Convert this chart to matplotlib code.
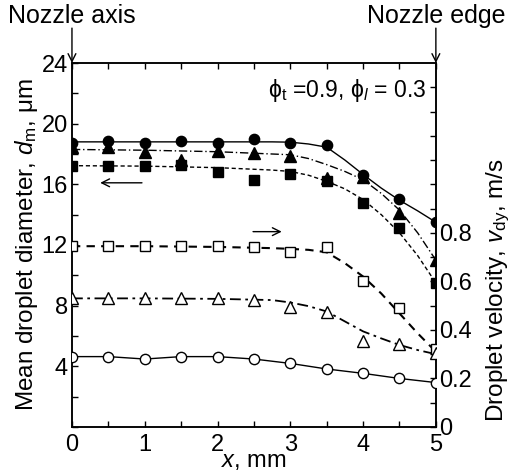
import matplotlib
matplotlib.use("Agg")
import matplotlib.pyplot as plt
import numpy as np

plt.rcParams['font.family'] = ['Liberation Sans', 'DejaVu Sans']
plt.rcParams['mathtext.fontset'] = 'custom'
plt.rcParams['mathtext.rm'] = 'Liberation Sans'
plt.rcParams['mathtext.it'] = 'Liberation Sans:italic'
plt.rcParams['mathtext.bf'] = 'Liberation Sans:bold'

# ---- data: measured points ----
x_pts = [0, 0.5, 1, 1.5, 2, 2.5, 3, 3.5, 4, 4.5, 5]
# mean droplet diameter (left axis, um)
d_circle = [18.75, 18.85, 18.7, 18.85, 18.75, 19.0, 18.7, 18.6, 16.6, 15.0, 13.5]
d_triangle = [18.45, 18.45, 18.15, 17.6, 18.2, 18.05, 17.9, 16.4, 16.5, 14.1, 11.0]
d_square = [17.2, 17.2, 17.2, 17.25, 16.8, 16.3, 16.7, 16.25, 14.8, 13.1, 9.5]
# droplet velocity (right axis, m/s)
v_square = [0.745, 0.745, 0.745, 0.745, 0.745, 0.74, 0.72, 0.74, 0.60, 0.49, 0.32]
v_triangle = [0.53, 0.53, 0.53, 0.53, 0.53, 0.523, 0.496, 0.473, 0.356, 0.342, 0.304]
v_circle = [0.29, 0.29, 0.28, 0.29, 0.29, 0.28, 0.262, 0.239, 0.221, 0.20, 0.183]

# ---- data: fitted curves ----
x_fit = [0, 1, 2, 2.75, 3, 3.25, 3.5, 3.75, 4, 4.25, 4.5, 4.75, 5]
d_circle_fit = [18.8, 18.8, 18.8, 18.8, 18.78, 18.66, 18.45, 17.6, 16.65, 15.75, 14.95, 14.25, 13.5]
d_triangle_fit = [18.3, 18.25, 18.15, 18.0, 17.95, 17.7, 17.3, 16.85, 16.3, 15.4, 14.3, 12.8, 11.0]
d_square_fit = [17.23, 17.2, 17.1, 16.94, 16.85, 16.6, 16.2, 15.7, 15.0, 14.0, 12.8, 11.3, 9.5]
v_square_fit = [0.745, 0.745, 0.742, 0.737, 0.734, 0.73, 0.72, 0.675, 0.62, 0.55, 0.468, 0.386, 0.31]
v_triangle_fit = [0.53, 0.53, 0.528, 0.523, 0.513, 0.498, 0.476, 0.435, 0.394, 0.365, 0.338, 0.317, 0.30]

fig = plt.figure(figsize=(5.14, 4.73), dpi=100)
ax = fig.add_axes([0.140, 0.0973, 0.708, 0.7695])
ax2 = ax.twinx()

ms = 7.4
# left axis series
ax.plot(x_fit, d_circle_fit, color='black', lw=1.0, ls='-', zorder=2)
ax.plot(x_pts, d_circle, ls='none', marker='o', ms=ms, mfc='black', mec='black', zorder=3)
ax.plot(x_fit, d_triangle_fit, color='black', lw=1.0, ls=(0, (6, 2, 1, 2)), zorder=2)
ax.plot(x_pts, d_triangle, ls='none', marker='^', ms=ms + 0.6, mfc='black', mec='black', zorder=3)
ax.plot(x_fit, d_square_fit, color='black', lw=1.0, ls=(0, (3, 2)), zorder=2)
ax.plot(x_pts, d_square, ls='none', marker='s', ms=ms - 0.8, mfc='black', mec='black', zorder=3)

# right axis series
ax2.plot(x_fit, v_square_fit, color='black', lw=1.5, ls=(0, (4, 3)), zorder=2)
ax2.plot(x_pts, v_square, ls='none', marker='s', ms=ms - 0.6, mfc='white', mec='black', mew=1.0, zorder=3)
ax2.plot(x_fit, v_triangle_fit, color='black', lw=1.3, ls=(0, (6, 2.5, 1.5, 2.5)), zorder=2)
ax2.plot(x_pts, v_triangle, ls='none', marker='^', ms=ms + 0.6, mfc='white', mec='black', mew=1.0, zorder=3)
ax2.plot(x_pts, v_circle, color='black', lw=1.0, ls='-', marker='o', ms=ms, mfc='white', mec='black', mew=1.0, zorder=3)

# axes limits & ticks
ax.set_xlim(0, 5)
ax.set_ylim(0, 24)
ax2.set_ylim(0, 1.5)
ax.set_xticks(np.arange(0, 5.01, 0.5))
ax.set_xticklabels(['0', '', '1', '', '2', '', '3', '', '4', '', '5'])
ax.set_yticks(np.arange(0, 24.1, 2))
ax.set_yticklabels(['' if (v % 4 or v == 0) else str(int(v)) for v in np.arange(0, 24.1, 2)])
rt = np.round(np.arange(0, 1.41, 0.1), 1)
ax2.set_yticks(rt)
ax2.set_yticklabels(['0' if v == 0 else (f'{v:.1f}' if (round(v * 10) % 2 == 0 and v <= 0.8) else '') for v in rt])

for a in (ax, ax2):
    for s in a.spines.values():
        s.set_linewidth(1.1)
ax.tick_params(axis='both', direction='in', length=4.5, width=1.0, labelsize=17, top=True, pad=3)
ax.tick_params(axis='x', pad=5)
ax2.tick_params(axis='y', direction='in', length=4.5, width=1.0, labelsize=17, pad=2)

ax.set_xlabel('$x$, mm', fontsize=17, labelpad=-4)
ax.set_ylabel('Mean droplet diameter, $d$$_\\mathrm{m}$, μm', fontsize=17.5, labelpad=1)
ax2.set_ylabel('Droplet velocity, $v$$_\\mathrm{dy}$, m/s', fontsize=17.5)
ax2.yaxis.set_label_coords(1.135, 0.375)

# annotations
ax.text(0.975, 0.925, 'ϕ$_\\mathrm{t}$ =0.9, ϕ$_{l}$ = 0.3', transform=ax.transAxes,
        ha='right', va='center', fontsize=16.5, family=['Liberation Sans', 'DejaVu Sans'])

arrowprops = dict(arrowstyle='->', color='black', lw=1.0, mutation_scale=14)
ax.annotate('', xy=(0.35, 16.1), xytext=(1.0, 16.1), arrowprops=arrowprops)
ax2.annotate('', xy=(2.92, 0.805), xytext=(2.45, 0.805), arrowprops=arrowprops)

ax.text(0, 26.3, 'Nozzle axis', ha='center', va='bottom', fontsize=18, clip_on=False)
ax.annotate('', xy=(0, 24), xytext=(0, 26.3), annotation_clip=False,
            arrowprops=dict(arrowstyle='->', color='black', lw=1.0, mutation_scale=14, shrinkA=0, shrinkB=0))
ax.text(5, 26.3, 'Nozzle edge', ha='center', va='bottom', fontsize=18, clip_on=False)
ax.annotate('', xy=(5, 24), xytext=(5, 26.3), annotation_clip=False,
            arrowprops=dict(arrowstyle='->', color='black', lw=1.0, mutation_scale=14, shrinkA=0, shrinkB=0))

fig.savefig('out.png', dpi=100)
